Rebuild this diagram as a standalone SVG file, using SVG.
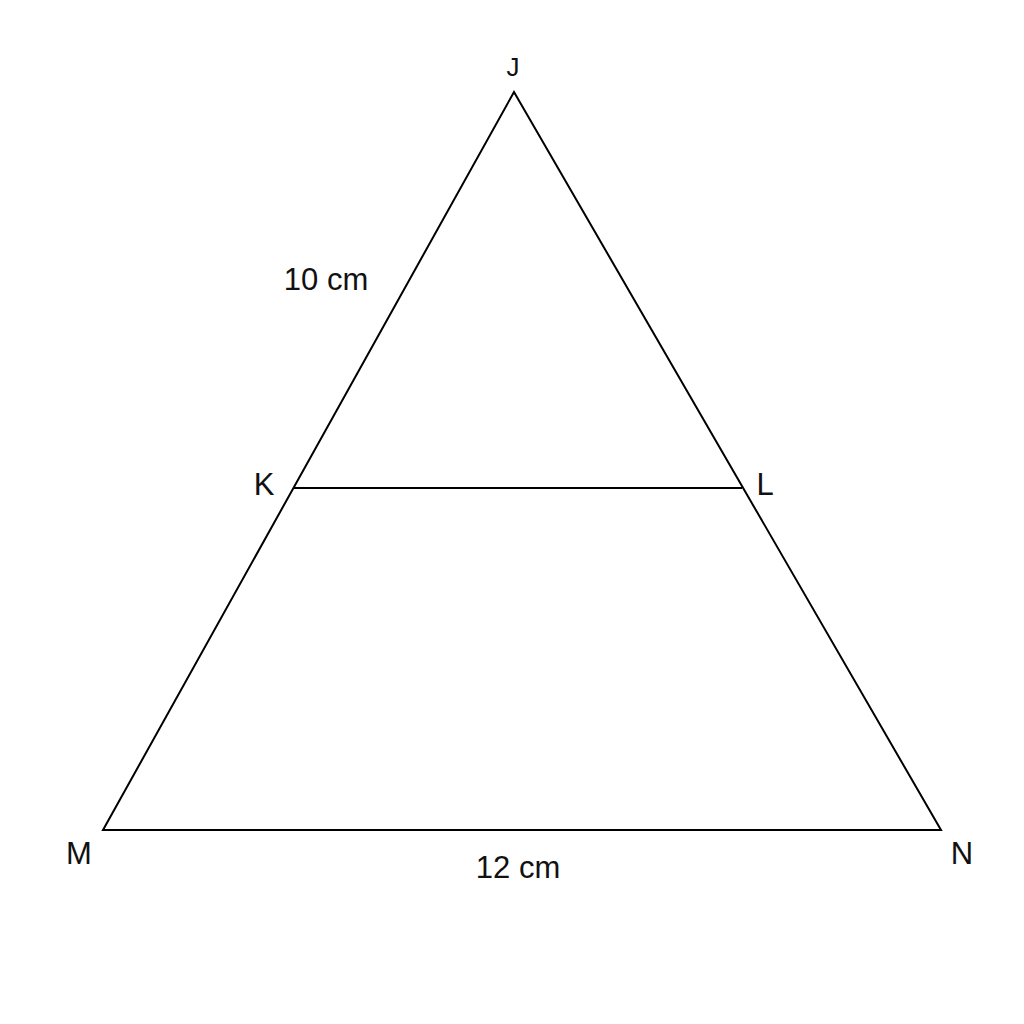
<svg xmlns="http://www.w3.org/2000/svg" width="1024" height="1024" viewBox="0 0 1024 1024">
<style>
.edge{stroke:#000;stroke-width:2;fill:none;stroke-linejoin:miter}
.lbl{font-family:"Liberation Sans",Arial,sans-serif;font-size:31px;fill:#111;text-anchor:middle}
</style>
<rect width="1024" height="1024" fill="#fff"/>
<g id="connectors">
<polygon class="edge" points="514,92 103,830 941,830"/>
<line class="edge" x1="293" y1="488" x2="742" y2="488"/>
</g>
<g id="J"><text class="lbl" x="513" y="76" style="font-size:26px">J</text></g>
<g id="K"><text class="lbl" x="264" y="495">K</text></g>
<g id="L"><text class="lbl" x="765" y="495">L</text></g>
<g id="M"><text class="lbl" x="79" y="864">M</text></g>
<g id="N"><text class="lbl" x="962" y="864">N</text></g>
<g id="label-10cm"><text class="lbl" x="326" y="290">10 cm</text></g>
<g id="label-12cm"><text class="lbl" x="518" y="878">12 cm</text></g>
</svg>
